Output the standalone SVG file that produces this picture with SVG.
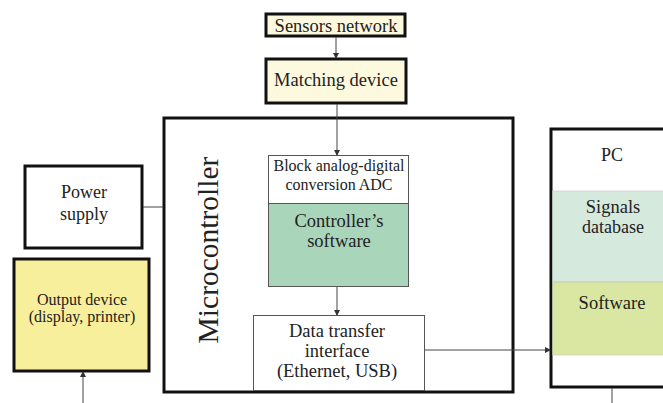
<svg xmlns="http://www.w3.org/2000/svg" width="663" height="403" viewBox="0 0 663 403">
<defs>
<marker id="ah" markerWidth="6" markerHeight="6" refX="5" refY="3" orient="auto" markerUnits="userSpaceOnUse">
<path d="M0,0 L6,3 L0,6 z" fill="#333"/>
</marker>
<style>
text{font-family:"Liberation Serif","Times New Roman",serif;fill:#222;text-anchor:middle}
.thick{stroke:#111;stroke-width:3;fill:#fff}
.thin{stroke:#555;stroke-width:1;fill:#fff}
.conn{stroke:#444;stroke-width:1;fill:none}
</style>
</defs>
<rect width="663" height="403" fill="#fff"/>
<g id="microcontroller">
<rect x="164" y="118" width="349" height="274" class="thick"/>
<text transform="translate(218,250) rotate(-90)" font-size="29.5">Microcontroller</text>
</g>
<g id="sensors">
<rect x="266" y="14" width="139" height="22" class="thick" style="fill:#fcf9df"/>
<text x="336" y="32" font-size="18.5">Sensors network</text>
</g>
<g id="matching">
<rect x="266" y="59" width="140" height="44" class="thick" style="fill:#fcf9df"/>
<text x="336" y="86" font-size="18.5">Matching device</text>
</g>
<g id="power">
<rect x="25" y="166" width="117" height="82" class="thick"/>
<text x="84" y="198" font-size="18">Power</text>
<text x="84" y="220" font-size="18">supply</text>
</g>
<g id="output">
<rect x="14" y="259" width="135" height="112" class="thick" style="fill:#f8ef9c"/>
<text x="82" y="305" font-size="16">Output device</text>
<text x="82" y="322" font-size="16">(display, printer)</text>
</g>
<g id="adc">
<rect x="268.5" y="155.5" width="140" height="48" class="thin"/>
<text x="339" y="171" font-size="16">Block analog-digital</text>
<text x="339" y="190" font-size="16">conversion ADC</text>
</g>
<g id="ctrlsw">
<rect x="268.5" y="203.5" width="140" height="83" class="thin" style="fill:#a9d5ba"/>
<text x="339" y="227" font-size="18.5">Controller’s</text>
<text x="339" y="247" font-size="18.5">software</text>
</g>
<g id="datatransfer">
<rect x="253.5" y="315.5" width="171" height="75" class="thin"/>
<text x="337" y="337" font-size="18.5">Data transfer</text>
<text x="337" y="357" font-size="18.5">interface</text>
<text x="337" y="377" font-size="18.5">(Ethernet, USB)</text>
</g>
<g id="pc">
<rect x="551" y="129" width="120" height="258" class="thick"/>
<rect x="552.5" y="191" width="112" height="91" style="fill:#d6e9dd"/>
<rect x="552.5" y="282" width="112" height="73" style="fill:#d9e7a2"/>
<line x1="552.5" y1="191" x2="663" y2="191" stroke="#ccc" stroke-width="0.7"/>
<line x1="552.5" y1="282" x2="663" y2="282" stroke="#bbb" stroke-width="0.7"/>
<line x1="552.5" y1="355" x2="663" y2="355" stroke="#ccc" stroke-width="0.7"/>
<text x="612" y="161" font-size="18">PC</text>
<text x="613" y="213" font-size="18.5">Signals</text>
<text x="613" y="233" font-size="18">database</text>
<text x="612" y="309" font-size="18.5">Software</text>
</g>
<g id="connectors">
<line x1="336" y1="37" x2="336" y2="58" class="conn" marker-end="url(#ah)"/>
<line x1="337" y1="104" x2="337" y2="155" class="conn" marker-end="url(#ah)"/>
<line x1="337" y1="287" x2="337" y2="315" class="conn" marker-end="url(#ah)"/>
<line x1="143" y1="207" x2="163" y2="207" class="conn"/>
<line x1="83" y1="403" x2="83" y2="372" class="conn" marker-end="url(#ah)"/>
<line x1="425" y1="350" x2="550" y2="350" class="conn" marker-end="url(#ah)"/>
<line x1="612" y1="388" x2="612" y2="403" class="conn"/>
</g>
</svg>
